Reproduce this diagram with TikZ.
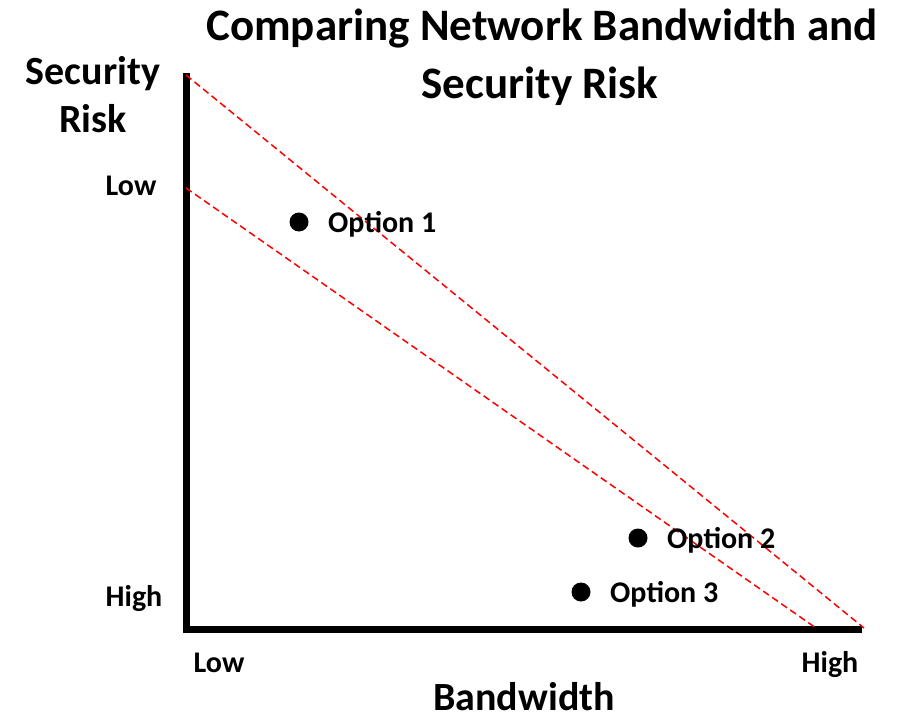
\documentclass[tikz,border=0pt]{standalone}
\usepackage{fontspec}
\setmainfont{Carlito}
\usetikzlibrary{positioning}

\definecolor{riskred}{rgb}{1,0,0}

\newcommand{\optiondot}[4]{%
	\node[dot] (#1) at (#2,#3) {};
	\node[optlabel] (#1label) at (#2+29,#3+10) {#4};
}

\tikzset{
	dot/.style={circle, fill=black, inner sep=0pt, minimum size=19pt},
	optlabel/.style={anchor=base west, inner sep=0pt, font=\fontsize{30}{36}\selectfont\bfseries},
	ticklabel/.style={anchor=base, inner sep=0pt, font=\fontsize{30}{36}\selectfont\bfseries},
	axistitle/.style={anchor=base, inner sep=0pt, font=\fontsize{40}{48}\selectfont\bfseries},
	charttitle/.style={anchor=base, inner sep=0pt, font=\fontsize{45}{54}\selectfont\bfseries},
	axisline/.style={black, line width=7pt},
	riskline/.style={riskred, line width=1.5pt, dash pattern=on 7pt off 4pt},
}

\begin{document}
\begin{tikzpicture}[x=1pt, y=-1pt]

	\useasboundingbox (0,0) rectangle (904,717);

	% title
	\node[charttitle] (title1) at (542,41) {Comparing Network Bandwidth and};
	\node[charttitle] (title2) at (540,98) {Security Risk};

	% axes
	\coordinate (ytop) at (186,73);
	\coordinate (origin) at (186,629);
	\coordinate (xend) at (862,629);
	\draw[axisline] (ytop) -- (origin) -- (xend);

	\node[axistitle] (ytitle1) at (93,84) {Security};
	\node[axistitle] (ytitle2) at (93,132) {Risk};
	\node[axistitle] (xtitle) at (524,710) {Bandwidth};

	\node[ticklabel] (ylow) at (131,195) {Low};
	\node[ticklabel] (yhigh) at (134,606) {High};
	\node[ticklabel] (xlow) at (219,672) {Low};
	\node[ticklabel] (xhigh) at (830,672) {High};

	% trade-off lines
	\coordinate (upperstart) at (186,75);
	\coordinate (upperend) at (864,628);
	\coordinate (lowerstart) at (186,188);
	\coordinate (lowerend) at (816,628);
	\draw[riskline] (upperstart) -- (upperend);
	\draw[riskline] (lowerstart) -- (lowerend);

	\optiondot{opt1}{299}{222}{Option 1}
	\optiondot{opt2}{638}{538}{Option 2}
	\optiondot{opt3}{581}{592}{Option 3}

\end{tikzpicture}
\end{document}
